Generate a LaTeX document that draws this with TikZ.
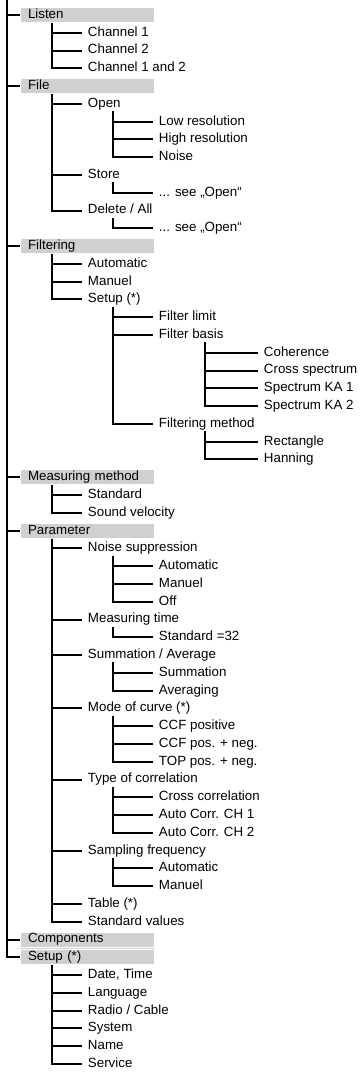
\documentclass[tikz,border=0pt]{standalone}
\usepackage{fontspec}
\setmainfont{Liberation Sans}
\usetikzlibrary{positioning}
\definecolor{menugray}{RGB}{208,208,208}
\tikzset{every picture/.style={line width=1.5pt,x=0.75pt,y={(0pt,-13.335pt)}},
menufont/.style={font=\fontsize{10}{12}\selectfont,text height=7.3pt,text depth=2.2pt},
topbox/.style={menufont,anchor=west,fill=menugray,text width=89.25pt,minimum height=10.5pt,inner xsep=5.25pt,inner ysep=0.5pt},
item/.style={menufont,anchor=west,inner xsep=3.75pt,inner ysep=0pt}}

\begin{document}
\begin{tikzpicture}
\useasboundingbox (0,-0.8436) rectangle (364,59.45);
\coordinate (root) at (7,-0.8436);
\coordinate (col1) at (52,0);
\coordinate (col2) at (113,0);
\coordinate (col3) at (205,0);

% main menu
\node[topbox] (listen) at (20,0) {Listen};
\node[topbox] (file) at (20,4) {File};
\node[topbox] (filter) at (20,13) {Filtering};
\node[topbox] (method) at (20,26) {Measuring method};
\node[topbox] (param) at (20,29) {Parameter};
\node[topbox] (comp) at (20,52) {Components};
\node[topbox] (setup) at (20,53) {Setup (*)};
\fill[menugray] (comp.south west) rectangle (setup.north east);
\foreach \n in {listen,file,filter,method,param,comp,setup}
\draw (root) |- (\n.west);

% Listen
\foreach \t [count=\i] in {Channel 1,Channel 2,Channel 1 and 2} {
\node[item] (listen\i) at (82,\i) {\t};
\draw (listen.south -| col1) |- (listen\i.west);
}

% File
\node[item] (open) at (82,5) {Open};
\node[item] (store) at (82,9) {Store};
\node[item] (delete) at (82,11) {Delete / All};
\foreach \n in {open,store,delete}
\draw (file.south -| col1) |- (\n.west);
\foreach \t [count=\i] in {Low resolution,High resolution,Noise} {
\node[item] (open\i) at (153,5+\i) {\t};
\draw (open.south -| col2) |- (open\i.west);
}
\node[item] (store1) at (153,10) {... see „Open“};
\node[item] (delete1) at (153,12) {... see „Open“};
\draw (store.south -| col2) |- (store1.west);
\draw (delete.south -| col2) |- (delete1.west);

% Filtering
\foreach \t [count=\i] in {Automatic,Manuel,Setup (*)} {
\node[item] (filter\i) at (82,13+\i) {\t};
\draw (filter.south -| col1) |- (filter\i.west);
}
\node[item] (flimit) at (153,17) {Filter limit};
\node[item] (fbasis) at (153,18) {Filter basis};
\node[item] (fmethod) at (153,23) {Filtering method};
\foreach \n in {flimit,fbasis,fmethod}
\draw (filter3.south -| col2) |- (\n.west);
\foreach \t [count=\i] in {Coherence,Cross spectrum,Spectrum KA 1,Spectrum KA 2} {
\node[item] (fbasis\i) at (258,18+\i) {\t};
\draw (fbasis.south -| col3) |- (fbasis\i.west);
}
\foreach \t [count=\i] in {Rectangle,Hanning} {
\node[item] (fmethod\i) at (258,23+\i) {\t};
\draw (fmethod.south -| col3) |- (fmethod\i.west);
}

% Measuring method
\foreach \t [count=\i] in {Standard,Sound velocity} {
\node[item] (method\i) at (82,26+\i) {\t};
\draw (method.south -| col1) |- (method\i.west);
}

% Parameter
\foreach \r/\n/\t in {30/noise/Noise suppression,34/mtime/Measuring time,36/summ/{Summation / Average},
39/mode/Mode of curve (*),43/corr/Type of correlation,47/samp/Sampling frequency,50/table/Table (*),51/stdval/Standard values} {
\node[item] (\n) at (82,\r) {\t};
\draw (param.south -| col1) |- (\n.west);
}
\foreach \n/\r/\list in {noise/30/{Automatic,Manuel,Off},mtime/34/{Standard =32},summ/36/{Summation,Averaging},
mode/39/{CCF positive,CCF pos. + neg.,TOP pos. + neg.},corr/43/{Cross correlation,Auto Corr. CH 1,Auto Corr. CH 2},
samp/47/{Automatic,Manuel}} {
\foreach \t [count=\i] in \list {
\node[item] (\n\i) at (153,\r+\i) {\t};
\draw (\n.south -| col2) |- (\n\i.west);
}
}

% Setup
\foreach \t [count=\i] in {{Date, Time},Language,Radio / Cable,System,Name,Service} {
\node[item] (setup\i) at (82,53+\i) {\t};
\draw (setup.south -| col1) |- (setup\i.west);
}

\end{tikzpicture}
\end{document}
